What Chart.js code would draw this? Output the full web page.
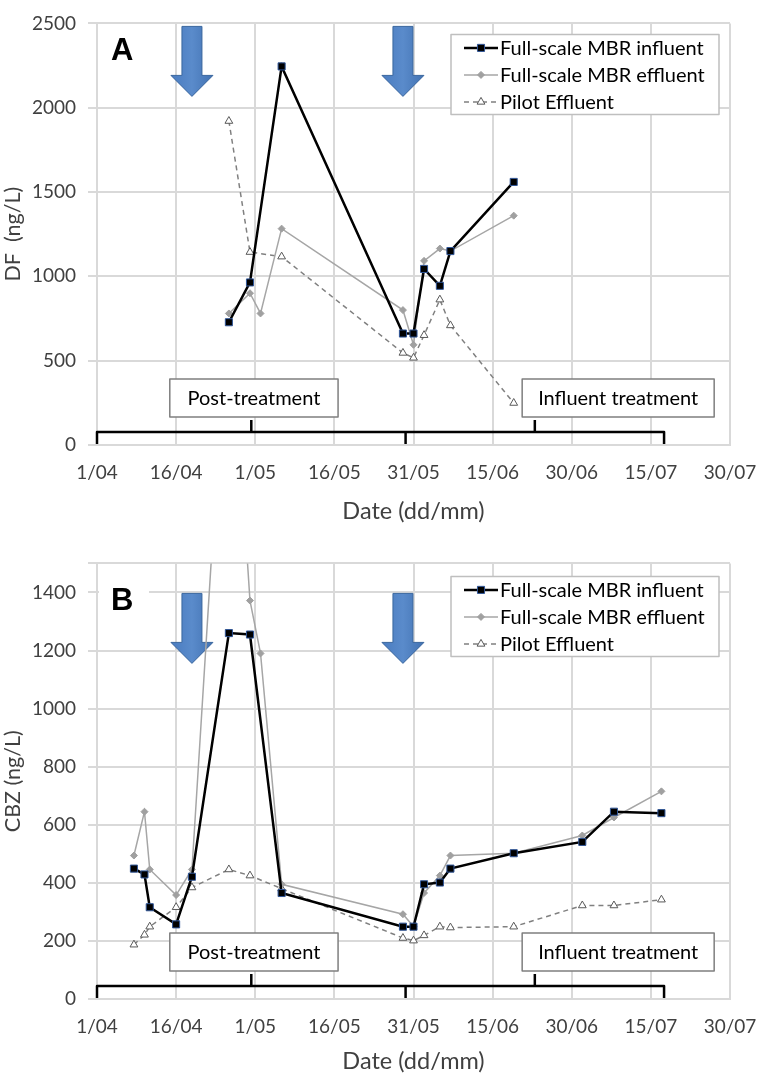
<!DOCTYPE html>
<html>
<head>
<meta charset="utf-8">
<script src="https://cdn.jsdelivr.net/npm/chart.js@4.4.1/dist/chart.umd.min.js"></script>
<style>
  html, body { margin: 0; padding: 0; background: #fff; }
  #wrap { position: relative; width: 760px; height: 1076px; }
  canvas { position: absolute; left: 0; }
  #chartA { top: 0; }
  #chartB { top: 540px; }
</style>
</head>
<body>
<div id="wrap">
  <canvas id="chartA" width="760" height="530"></canvas>
  <canvas id="chartB" width="760" height="536"></canvas>
</div>
<script>
// x axis runs in days counted from 1 April
const tickLabels = ['1/04', '16/04', '1/05', '16/05', '31/05', '15/06', '30/06', '15/07', '30/07'];
const seriesNames = ['Full-scale MBR influent', 'Full-scale MBR effluent', 'Pilot Effluent'];

// panel A - DF (ng/L)
const datesA = ['26/04', '30/04', '02/05', '06/05', '29/05', '31/05', '02/06', '05/06', '07/06', '19/06'];
const dfInfluent = [728, 964, null, 2245, 661, 661, 1044, 944, 1150, 1560];
const dfEffluent = [780, 900, 780, 1283, 800, 594, 1092, 1165, 1150, 1360];
const dfPilot = [1921, 1144, null, 1117, 546, 517, 651, 862, 709, 249];

// panel B - CBZ (ng/L)
const datesB = ['08/04', '10/04', '11/04', '16/04', '19/04', '26/04', '30/04', '02/05', '06/05', '29/05',
                '31/05', '02/06', '05/06', '07/06', '19/06', '02/07', '08/07', '17/07'];
const cbzInfluent = [449, 429, 316, 257, 421, 1260, 1255, null, 365, 249, 249, 395, 401, 449, 502, 541, 645, 640];
const cbzEffluent = [494, 645, 446, 358, 446, 2480, 1372, 1190, 395, 292, 250, 365, 425, 494, 502, 563, 625, 715];
const cbzPilot = [187, 221, 249, 316, 384, 446, 425, null, 380, 210, 201, 219, 249, 246, 249, 322, 322, 342];

// annotations (in days)
const arrowDays = [18, 58];
const bracketDays = [0, 58.5, 107.5];
const phaseLabels = ['Post-treatment', 'Influent treatment'];
const phaseBoxDays = [[13.8, 45.7], [80.6, 117]];

Chart.defaults.font.family = 'Lato, "Open Sans", sans-serif';

const monthStart = {4: 0, 5: 30, 6: 61, 7: 91};
function dayOf(s) {
    const [d, m] = s.split('/').map(Number);
    return monthStart[m] + d - 1;
}
function points(dates, values) {
    return dates.map((s, i) => ({x: dayOf(s), y: values[i]})).filter(p => p.y !== null);
}

function makeDatasets(dates, inf, eff, pil) {
    return [
        {
            label: seriesNames[0], data: points(dates, inf),
            borderColor: '#000', borderWidth: 2.5,
            pointStyle: 'rect', pointRadius: 5,
            pointBackgroundColor: '#000', pointBorderColor: '#2f5597', pointBorderWidth: 1
        },
        {
            label: seriesNames[1], data: points(dates, eff),
            borderColor: '#a6a6a6', borderWidth: 1.5,
            pointStyle: 'rectRot', pointRadius: 3.5,
            pointBackgroundColor: '#a0a0a0', pointBorderColor: '#a0a0a0', pointBorderWidth: 1
        },
        {
            label: seriesNames[2], data: points(dates, pil),
            borderColor: '#808080', borderWidth: 1.5, borderDash: [5, 4],
            pointStyle: 'triangle', pointRadius: 4.5,
            pointBackgroundColor: '#fff', pointBorderColor: '#595959', pointBorderWidth: 1
        }
    ];
}

function drawArrow(ctx, cx, top) {
    ctx.beginPath();
    ctx.moveTo(cx - 10, top);
    ctx.lineTo(cx + 10, top);
    ctx.lineTo(cx + 10, top + 49);
    ctx.lineTo(cx + 21, top + 49);
    ctx.lineTo(cx, top + 70);
    ctx.lineTo(cx - 21, top + 49);
    ctx.lineTo(cx - 10, top + 49);
    ctx.closePath();
    const g = ctx.createLinearGradient(cx - 21, 0, cx + 21, 0);
    g.addColorStop(0, '#4a7cc0');
    g.addColorStop(0.5, '#5a8bcb');
    g.addColorStop(1, '#4272b2');
    ctx.fillStyle = g;
    ctx.fill();
    ctx.strokeStyle = '#3a669e';
    ctx.lineWidth = 1;
    ctx.stroke();
}

function drawLegend(chart, topOff) {
    const {ctx, chartArea: a} = chart;
    const bx = a.right - 279, by = a.top + topOff, bw = 268, bh = 80;
    ctx.fillStyle = '#fff';
    ctx.fillRect(bx, by, bw, bh);
    ctx.strokeStyle = '#bfbfbf';
    ctx.lineWidth = 1.5;
    ctx.setLineDash([]);
    ctx.strokeRect(bx, by, bw, bh);
    chart.data.datasets.forEach((ds, i) => {
        const y = by + 13.5 + i * 27;
        ctx.strokeStyle = ds.borderColor;
        ctx.lineWidth = ds.borderWidth;
        ctx.setLineDash(ds.borderDash || []);
        ctx.beginPath();
        ctx.moveTo(bx + 13, y);
        ctx.lineTo(bx + 47, y);
        ctx.stroke();
        ctx.setLineDash([]);
        ctx.fillStyle = ds.pointBackgroundColor;
        ctx.strokeStyle = ds.pointBorderColor;
        ctx.lineWidth = ds.pointBorderWidth;
        Chart.helpers.drawPoint(ctx, {pointStyle: ds.pointStyle, radius: ds.pointRadius, borderWidth: ds.pointBorderWidth, rotation: 0}, bx + 30, y);
        ctx.fillStyle = '#000';
        ctx.font = '20px Lato, sans-serif';
        ctx.textAlign = 'left';
        ctx.textBaseline = 'middle';
        ctx.fillText(ds.label, bx + 49, y + 1);
    });
}

const decorPlugin = {
    id: 'decor',
    beforeDatasetsDraw(chart, args, opts) {
        const {ctx, chartArea: a, scales: {x}} = chart;
        ctx.save();
        // panel letter on a white patch
        ctx.fillStyle = '#fff';
        ctx.fillRect(a.left + 2, a.top + opts.letterY - 20, 50, 40);
        ctx.fillStyle = '#000';
        ctx.font = 'bold 31px "Liberation Sans", Arial, sans-serif';
        ctx.textAlign = 'left';
        ctx.textBaseline = 'middle';
        ctx.fillText(opts.letter, a.left + 14, a.top + opts.letterY);
        arrowDays.forEach(d => drawArrow(ctx, x.getPixelForValue(d), a.top + opts.arrowTop));
        ctx.restore();
    },
    afterDatasetsDraw(chart, args, opts) {
        const {ctx, chartArea: a, scales: {x}} = chart;
        ctx.save();
        // phase bracket along the bottom
        const by = a.bottom - 13;
        const px = bracketDays.map(d => x.getPixelForValue(d));
        ctx.strokeStyle = '#000';
        ctx.lineWidth = 2.5;
        ctx.lineJoin = 'round';
        ctx.beginPath();
        ctx.moveTo(px[0], a.bottom - 1);
        ctx.lineTo(px[0], by);
        ctx.lineTo(px[2], by);
        ctx.lineTo(px[2], a.bottom - 1);
        ctx.moveTo(px[1], a.bottom - 1);
        ctx.lineTo(px[1], by);
        for (let i = 0; i < 2; i++) {
            const mid = (px[i] + px[i + 1]) / 2;
            ctx.moveTo(mid, by);
            ctx.lineTo(mid, by - 12);
        }
        ctx.stroke();
        // phase labels
        phaseBoxDays.forEach((d, i) => {
            const l = x.getPixelForValue(d[0]), r = x.getPixelForValue(d[1]);
            const t = a.bottom - 66, h = 38;
            ctx.fillStyle = '#fff';
            ctx.fillRect(l, t, r - l, h);
            ctx.strokeStyle = '#7f7f7f';
            ctx.lineWidth = 1.5;
            ctx.strokeRect(l, t, r - l, h);
            ctx.fillStyle = '#000';
            ctx.font = '20px Lato, sans-serif';
            ctx.textAlign = 'center';
            ctx.textBaseline = 'middle';
            ctx.fillText(phaseLabels[i], (l + r) / 2, t + h / 2 + 1);
        });
        drawLegend(chart, opts.legendTop);
        ctx.restore();
    }
};

function makeChart(id, datasets, o) {
    return new Chart(document.getElementById(id), {
        type: 'line',
        data: {datasets: datasets},
        options: {
            responsive: false,
            animation: false,
            devicePixelRatio: 1,
            layout: {padding: {top: o.padTop, right: 30, left: 0, bottom: 0}},
            elements: {line: {tension: 0}},
            plugins: {
                legend: {display: false},
                tooltip: {enabled: false},
                decor: {letter: o.letter, letterY: o.letterY, arrowTop: o.arrowTop, legendTop: o.legendTop}
            },
            scales: {
                x: {
                    type: 'linear', min: 0, max: 120,
                    afterFit: function(s) {
                        s.height = o.xHeight;
                        s.paddingLeft = 0;
                        s.paddingRight = 0;
                    },
                    ticks: {
                        stepSize: 15, padding: 16, color: '#404040', font: {size: 19},
                        autoSkip: false, maxRotation: 0,
                        callback: function(v) { return tickLabels[v / 15] || ''; }
                    },
                    grid: {color: '#d9d9d9', lineWidth: 2, drawTicks: false},
                    border: {color: '#d9d9d9', width: 2},
                    title: {display: true, text: 'Date (dd/mm)', color: '#404040', font: {size: 23.5}, padding: {top: 0, bottom: o.titlePad}}
                },
                y: {
                    min: 0, max: o.yMax,
                    afterFit: function(s) { s.width = 97; },
                    ticks: {
                        stepSize: o.yStep, padding: 12, color: '#404040', font: {size: 19},
                        callback: function(v) { return v % o.yStep === 0 ? v : ''; }
                    },
                    grid: {color: '#d9d9d9', lineWidth: 2, tickLength: 9},
                    border: {color: '#d9d9d9', width: 2},
                    title: {display: true, text: o.yTitle, color: '#404040', font: {size: 21.5}, padding: {top: 0, bottom: 0}}
                }
            }
        },
        plugins: [decorPlugin]
    });
}

makeChart('chartA', makeDatasets(datesA, dfInfluent, dfEffluent, dfPilot), {
    padTop: 12, xHeight: 85, titlePad: 4, yMax: 2500, yStep: 500, yTitle: 'DF  (ng/L)',
    letter: 'A', letterY: 28, arrowTop: 3, legendTop: 11
});
makeChart('chartB', makeDatasets(datesB, cbzInfluent, cbzEffluent, cbzPilot), {
    padTop: 15, xHeight: 77, titlePad: 0, yMax: 1500, yStep: 200, yTitle: 'CBZ (ng/L)',
    letter: 'B', letterY: 38, arrowTop: 30, legendTop: 13
});
</script>
</body>
</html>
